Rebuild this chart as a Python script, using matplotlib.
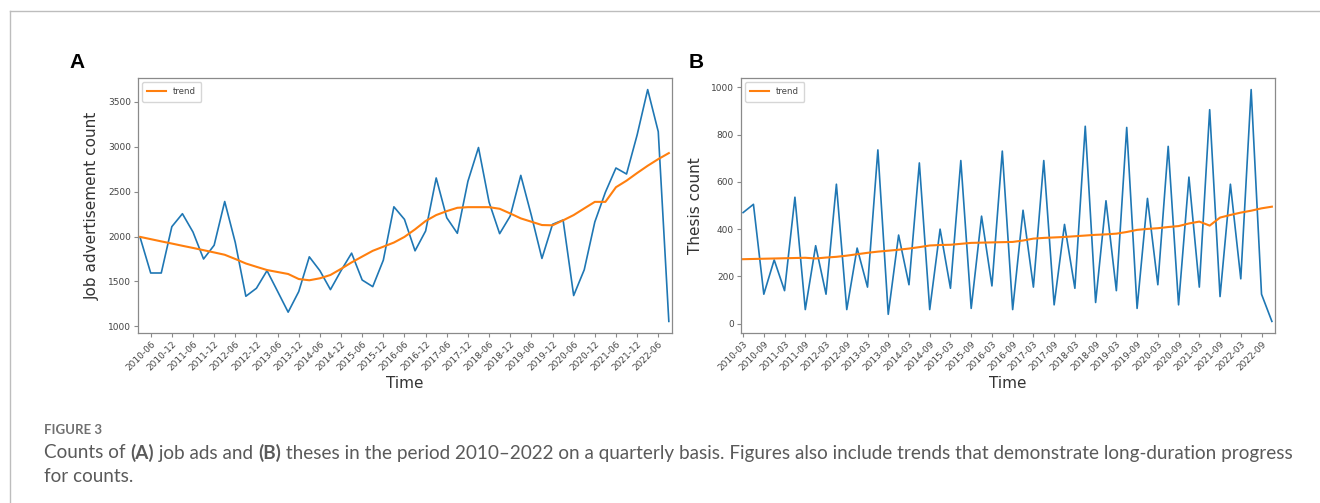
import matplotlib.pyplot as plt
from matplotlib.lines import Line2D

# quarterly job advertisement counts, 2010-03 .. 2022-09
job_ads = [1990, 1594, 1594, 2110, 2254, 2050, 1750, 1903, 2390, 1933,
           1335, 1424, 1620, 1390, 1158, 1387, 1774, 1620, 1409, 1620,
           1815, 1516, 1442, 1737, 2331, 2191, 1841, 2062, 2652, 2209,
           2036, 2615, 2991, 2383, 2032, 2228, 2681, 2235, 1756, 2136,
           2184, 1343, 1630, 2162, 2493, 2763, 2696, 3130, 3636, 3168,
           1055]
job_trend = [1996, 1971, 1946, 1922, 1897, 1873, 1848, 1823, 1797, 1750,
             1700, 1663, 1627, 1605, 1583, 1527, 1513, 1535, 1572, 1640,
             1712, 1777, 1841, 1887, 1933, 1996, 2080, 2173, 2239, 2283,
             2320, 2327, 2327, 2327, 2309, 2257, 2202, 2165, 2128, 2125,
             2180, 2239, 2313, 2386, 2386, 2549, 2622, 2707, 2788, 2862,
             2929]

# quarterly thesis counts, 2010-03 .. 2022-12
theses = [470, 505, 125, 270, 140, 535, 60, 330, 125, 590,
          60, 320, 155, 735, 40, 375, 165, 680, 60, 400,
          150, 690, 65, 455, 160, 730, 60, 480, 155, 690,
          80, 420, 150, 835, 90, 520, 140, 830, 65, 530,
          165, 750, 80, 620, 155, 905, 115, 590, 190, 990,
          125, 10]
thesis_trend = [273, 274, 275, 276, 277, 278, 279, 276, 280, 283,
                288, 294, 300, 305, 309, 313, 318, 324, 331, 333,
                334, 338, 342, 343, 344, 345, 346, 352, 360, 363,
                365, 367, 370, 373, 376, 378, 381, 388, 397, 401,
                404, 409, 413, 424, 432, 415, 449, 460, 470, 478,
                488, 495]

quarters = [f"{y}-{m:02d}" for y in range(2010, 2023) for m in (3, 6, 9, 12)]
quarters_a = quarters[:len(job_ads)]
quarters_b = quarters[:len(theses)]

caption_head = "FIGURE 3"
caption_parts = [("Counts of ", "normal"), ("(A)", "bold"), (" job ads and ", "normal"),
                 ("(B)", "bold"),
                 (" theses in the period 2010\u20132022 on a quarterly basis. Figures also "
                  "include trends that demonstrate long-duration progress", "normal")]
caption_tail = "for counts."

BLUE = "#1f77b4"
ORANGE = "#ff7f0e"

fig = plt.figure(figsize=(13.2, 5.03), dpi=100)
W, H = 1320.0, 503.0


def box(l, t, r, b):
    return [l / W, 1 - b / H, (r - l) / W, (b - t) / H]


def style(ax):
    for s in ax.spines.values():
        s.set_color("#8a8a8a")
        s.set_linewidth(0.9)
    ax.tick_params(labelsize=6.5, colors="#8a8a8a", labelcolor="#444444",
                   length=3, width=0.8, pad=2)


axA = fig.add_axes(box(138, 78, 672, 333))
xa = list(range(len(job_ads)))
axA.plot(xa, job_ads, color=BLUE, lw=1.2)
axA.plot(xa, job_trend, color=ORANGE, lw=1.5, label="trend")
axA.set_xlim(-0.2, len(job_ads) - 0.7)
axA.set_xticks(xa[1::2])
axA.set_xticklabels(quarters_a[1::2], rotation=45, ha="right", rotation_mode="anchor")
axA.set_yticks([1000, 1500, 2000, 2500, 3000, 3500])
axA.set_ylabel("Job advertisement count", fontsize=11, color="#333333", labelpad=6)
axA.set_xlabel("Time", fontsize=11, color="#333333", labelpad=2)
style(axA)
axA.legend(loc="upper left", fontsize=6.2, handlelength=2.2, borderpad=0.6,
           labelcolor="#444444", edgecolor="#cccccc", fancybox=True)

axB = fig.add_axes(box(741, 78, 1275, 333))
xb = list(range(len(theses)))
axB.plot(xb, theses, color=BLUE, lw=1.2)
axB.plot(xb, thesis_trend, color=ORANGE, lw=1.5, label="trend")
axB.set_xlim(-0.2, len(theses) - 0.7)
axB.set_xticks(xb[0::2])
axB.set_xticklabels(quarters_b[0::2], rotation=45, ha="right", rotation_mode="anchor")
axB.set_yticks([0, 200, 400, 600, 800, 1000])
axB.set_ylabel("Thesis count", fontsize=11, color="#333333", labelpad=6)
axB.set_xlabel("Time", fontsize=11, color="#333333", labelpad=2)
style(axB)
axB.legend(loc="upper left", fontsize=6.2, handlelength=2.2, borderpad=0.6,
           labelcolor="#444444", edgecolor="#cccccc", fancybox=True)

# panel letters
fig.text(77 / W, 1 - 63 / H, "A", fontsize=15, fontweight="bold",
         family="Liberation Sans", ha="center", va="center")
fig.text(696 / W, 1 - 63 / H, "B", fontsize=15, fontweight="bold",
         family="Liberation Sans", ha="center", va="center")

# page frame
frame = "#bdbdbd"
fig.add_artist(Line2D([10 / W, 10 / W], [0, 1 - 11 / H], color=frame, lw=1))
fig.add_artist(Line2D([10 / W, 1], [1 - 11 / H, 1 - 11 / H], color=frame, lw=1))

# caption
cap = dict(family="Lato", color="#5a5a5a", va="center")
fig.text(44 / W, 1 - 430 / H, caption_head, fontsize=9.5, fontweight="bold",
         color="#707070", family="Lato", va="center")
renderer = fig.canvas.get_renderer()
x = 44 / W
for s, w in caption_parts:
    t = fig.text(x, 1 - 453 / H, s, fontsize=13.6, fontweight=w, **cap)
    x += t.get_window_extent(renderer).width / fig.bbox.width
fig.text(44 / W, 1 - 477 / H, caption_tail, fontsize=13.6, **cap)

fig.savefig("out.png", dpi=100)
